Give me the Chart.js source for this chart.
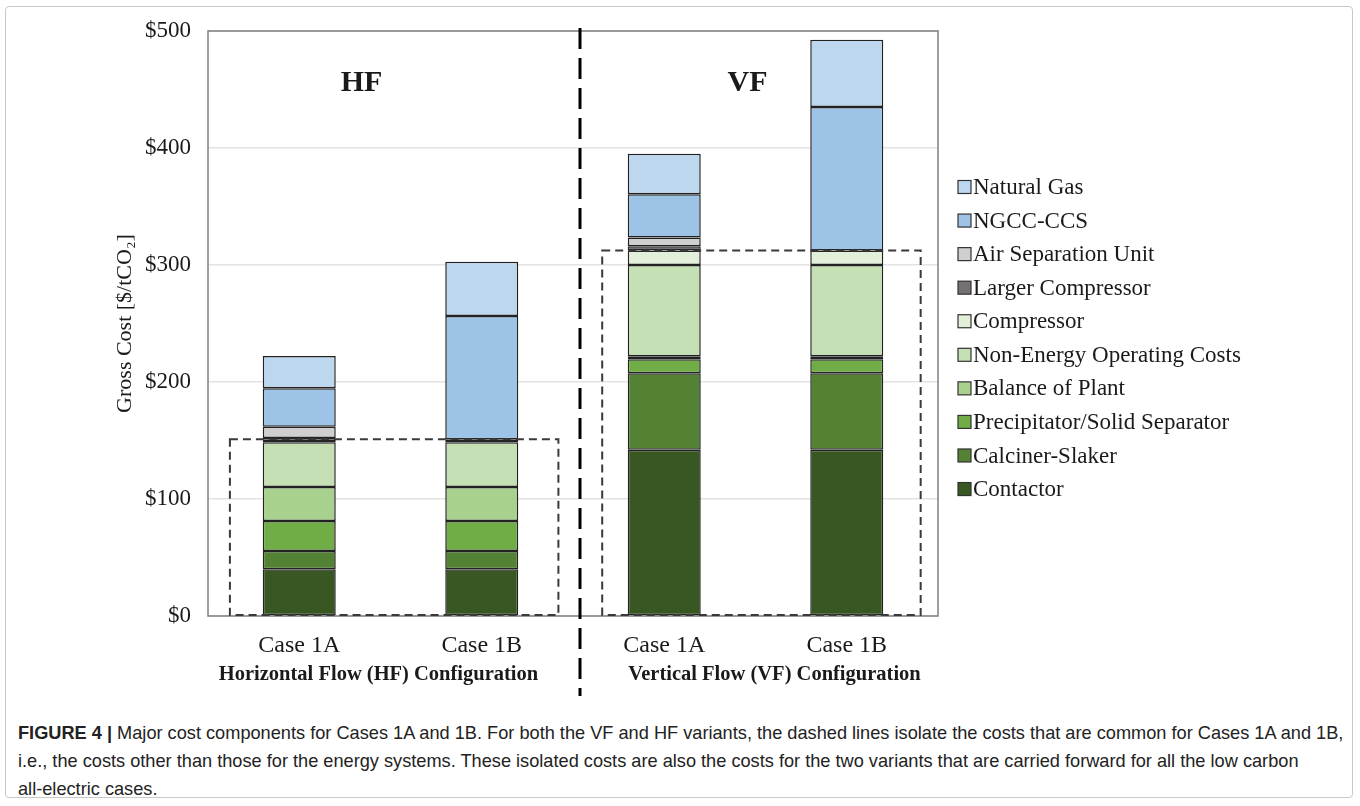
<!DOCTYPE html>
<html>
<head>
<meta charset="utf-8">
<script src="https://cdn.jsdelivr.net/npm/chart.js@4/dist/chart.umd.min.js"></script>
<style>
  html, body { margin: 0; padding: 0; background: #fff; }
  body { width: 1360px; height: 806px; position: relative; overflow: hidden; }
  #frame { position: absolute; left: 5px; top: 6px; width: 1348px; height: 792px; border: 1.5px solid #c9c9c9; border-radius: 4px; box-sizing: border-box; }
  #wrap { position: absolute; left: 0; top: 0; width: 1360px; height: 700px; }
  #caption { position: absolute; left: 18px; top: 719px; width: 1335px; font-family: "Liberation Sans", Arial, sans-serif; font-size: 18.2px; line-height: 28px; color: #222; white-space: nowrap; }
  #caption b { font-weight: bold; }
</style>
</head>
<body>
<div id="frame"></div>
<div id="wrap"><canvas id="c" width="1360" height="700"></canvas></div>
<div id="caption"><b>FIGURE 4 |</b> Major cost components for Cases 1A and 1B. For both the VF and HF variants, the dashed lines isolate the costs that are common for Cases 1A and 1B,<br>i.e., the costs other than those for the energy systems. These isolated costs are also the costs for the two variants that are carried forward for all the low carbon<br>all-electric cases.</div>
<script>
// ---- data ----
const categories = ['Case 1A', 'Case 1B', 'Case 1A', 'Case 1B'];
const groupLabels = ['Horizontal Flow (HF) Configuration', 'Vertical Flow (VF) Configuration'];
const panelLabels = ['HF', 'VF'];
const yTicks = [0, 100, 200, 300, 400, 500];

const contactor        = [40, 40, 142, 142];
const calcinerSlaker   = [15.6, 15.6, 65.5, 65.5];
const precipitator     = [25.6, 25.6, 12, 12];
const balanceOfPlant   = [29, 29, 2.5, 2.5];
const nonEnergyOpCosts = [38.3, 38.3, 78, 78];
const compressor       = [2.5, 2.5, 12.5, 12.5];
const largerCompressor = [1.2, null, 3.5, null];
const airSeparation    = [9.6, null, 7.5, null];
const ngccCcs          = [32.8, 105.4, 37, 122.5];
const naturalGas       = [27.6, 46.4, 34.5, 57.5];

const seriesNames = ['Contactor', 'Calciner-Slaker', 'Precipitator/Solid Separator', 'Balance of Plant',
  'Non-Energy Operating Costs', 'Compressor', 'Larger Compressor', 'Air Separation Unit', 'NGCC-CCS', 'Natural Gas'];
const seriesValues = [contactor, calcinerSlaker, precipitator, balanceOfPlant, nonEnergyOpCosts,
  compressor, largerCompressor, airSeparation, ngccCcs, naturalGas];
const seriesColors = ['#385723', '#548235', '#70ad47', '#a9d18e', '#c5e0b4',
  '#e2f0d9', '#767171', '#d0cece', '#9dc3e6', '#bdd7ee'];
// common (non-energy) components: first six series
const commonCount = 6;

const SERIF = '"Liberation Serif", "Times New Roman", serif';
const INK = '#1a1a1a';

const datasets = seriesNames.map((n, i) => ({
  label: n,
  data: seriesValues[i],
  backgroundColor: seriesColors[i],
  borderColor: '#222',
  borderWidth: 1.5,
  borderSkipped: false,
  barPercentage: 0.4,
  categoryPercentage: 1.0,
  stack: 's'
}));

const decor = {
  id: 'decor',
  beforeDatasetsDraw(chart) {
    const { ctx, chartArea: a } = chart;
    ctx.save();
    ctx.strokeStyle = '#7f7f7f';
    ctx.lineWidth = 1.5;
    ctx.strokeRect(a.left, a.top, a.right - a.left, a.bottom - a.top);
    ctx.restore();
  },
  afterDatasetsDraw(chart) {
    const { ctx, chartArea: a, scales: { x, y } } = chart;
    const cw = x.getPixelForValue(1) - x.getPixelForValue(0);
    const common = [0, 1, 2, 3].map(j => seriesValues.slice(0, commonCount).reduce((s, arr) => s + (arr[j] || 0), 0));
    ctx.save();
    // dashed boxes around common costs
    ctx.strokeStyle = '#3a3a3a';
    ctx.lineWidth = 2;
    ctx.setLineDash([8, 5]);
    const boxes = [
      [x.getPixelForValue(0) - 0.38 * cw, x.getPixelForValue(1) + 0.42 * cw, Math.max(common[0], common[1])],
      [x.getPixelForValue(2) - 0.34 * cw, x.getPixelForValue(3) + 0.405 * cw, Math.max(common[2], common[3])]
    ];
    boxes.forEach(([l, r, v]) => {
      const t = y.getPixelForValue(v);
      const b = y.getPixelForValue(0) - 1;
      ctx.strokeRect(l, t, r - l, b - t);
    });
    // central divider
    const mx = (x.getPixelForValue(1) + x.getPixelForValue(2)) / 2 + 7;
    ctx.strokeStyle = '#000';
    ctx.lineWidth = 3;
    ctx.setLineDash([21, 9]);
    ctx.beginPath();
    ctx.moveTo(mx, a.top - 3);
    ctx.lineTo(mx, 696);
    ctx.stroke();
    ctx.setLineDash([]);
    // panel labels
    ctx.fillStyle = INK;
    ctx.font = 'bold 30px ' + SERIF;
    ctx.textAlign = 'center';
    ctx.textBaseline = 'middle';
    ctx.fillText(panelLabels[0], (x.getPixelForValue(0) + x.getPixelForValue(1)) / 2 - 29, 83);
    ctx.fillText(panelLabels[1], (x.getPixelForValue(2) + x.getPixelForValue(3)) / 2 - 8, 83);
    // group labels
    ctx.font = 'bold 20.5px ' + SERIF;
    ctx.fillText(groupLabels[0], (x.getPixelForValue(0) + x.getPixelForValue(1)) / 2 - 12, 675);
    ctx.fillText(groupLabels[1], (x.getPixelForValue(2) + x.getPixelForValue(3)) / 2 + 19, 675);
    // legend (top item = last series)
    ctx.font = '23px ' + SERIF;
    ctx.textAlign = 'left';
    const lx = 958, ly0 = 187, step = 33.56;
    for (let k = 0; k < seriesNames.length; k++) {
      const i = seriesNames.length - 1 - k;
      const cy = ly0 + k * step;
      ctx.fillStyle = seriesColors[i];
      ctx.fillRect(lx, cy - 6.5, 13, 13);
      ctx.strokeStyle = '#333';
      ctx.lineWidth = 1.2;
      ctx.strokeRect(lx, cy - 6.5, 13, 13);
      ctx.fillStyle = INK;
      ctx.fillText(seriesNames[i], lx + 15, cy + 1);
    }
    ctx.restore();
  }
};

new Chart(document.getElementById('c'), {
  type: 'bar',
  data: { labels: categories, datasets },
  options: {
    responsive: false,
    animation: false,
    devicePixelRatio: 1,
    layout: { padding: { left: 0, top: 31, right: 422, bottom: 0 } },
    plugins: { legend: { display: false }, tooltip: { enabled: false } },
    scales: {
      x: {
        stacked: true,
        grid: { display: false },
        border: { display: false },
        ticks: { color: INK, font: { family: SERIF, size: 24 }, padding: 7 },
        afterFit(s) { s.height = 84; }
      },
      y: {
        stacked: true,
        min: 0, max: 500,
        afterBuildTicks(s) { s.ticks = yTicks.map(v => ({ value: v })); },
        grid: { color: '#e3e3e3', lineWidth: 1.5, drawTicks: false },
        border: { display: false },
        ticks: { color: INK, font: { family: SERIF, size: 23 }, padding: 17, callback: v => '$' + v },
        title: { display: true, text: 'Gross Cost [$/tCO\u2082]', color: INK, font: { family: SERIF, size: 22 }, padding: { top: 112, bottom: 0 } },
        afterFit(s) { s.width = 208; }
      }
    }
  },
  plugins: [decor]
});
</script>
</body>
</html>
